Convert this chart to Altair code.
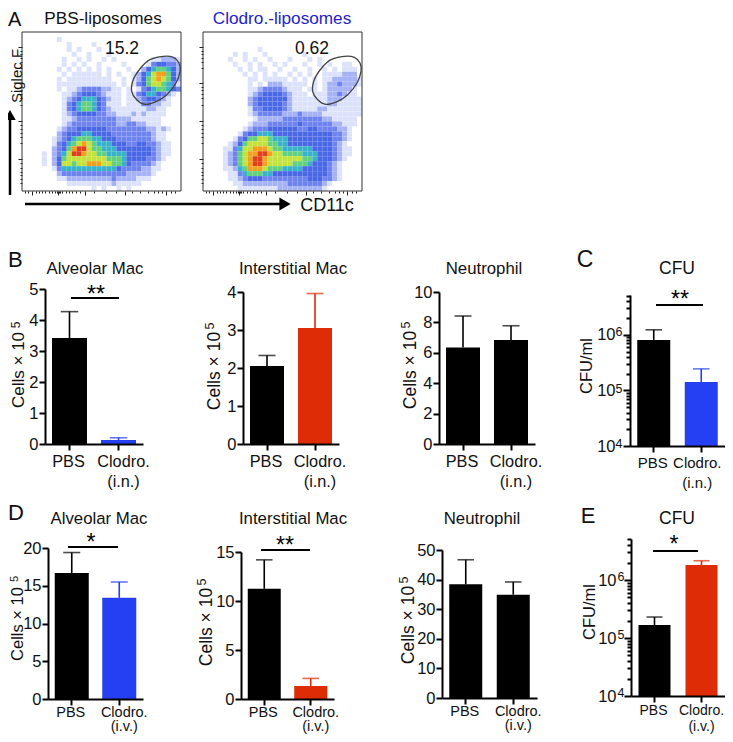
import altair as alt
import pandas as pd

W, H = 717, 726
FONT = "Liberation Sans"
BLACK, BLUE, RED = "#000000", "#2440f2", "#de2c06"

# ---------- values ----------
CATS = ["PBS", "Clodro."]
b1_vals, b1_tops = [3.42, 0.13], [4.27, 0.20]
b2_vals, b2_tops = [2.05, 3.05], [2.33, 3.96]
b3_vals, b3_tops = [6.35, 6.85], [8.42, 7.78]
c_vals, c_tops = [8.1e5, 1.42e5], [1.23e6, 2.44e5]
d1_vals, d1_tops = [16.7, 13.4], [19.4, 15.5]
d2_vals, d2_tops = [11.25, 1.33], [14.2, 2.1]
d3_vals, d3_tops = [38.4, 34.9], [46.7, 39.2]
e_vals, e_tops = [1.68e5, 1.81e6], [2.3e5, 2.15e6]

LOG_MINOR = [2e4, 3e4, 4e4, 5e4, 6e4, 7e4, 8e4, 9e4,
             2e5, 3e5, 4e5, 5e5, 6e5, 7e5, 8e5, 9e5,
             2e6, 3e6, 4e6, 5e6]
LOG_MAJOR = [1e4, 1e5, 1e6]

# density levels (0 blank .. 9 red)
flow_left = [
    "00000000000000000000000000000000",
    "00000001000000000000000000000000",
    "00000000010000100000000000000000",
    "00000000010100010000000000000000",
    "00000000001001000100000000000000",
    "00000000100101001010000000112221",
    "00000000101010010000100001344332",
    "00000001010101010100010024566542",
    "00000000101111110101001245788642",
    "00000001011111111100101246787642",
    "00000001111111111110101346776531",
    "00000001011233332211010134566543",
    "00000000112344432111011345543210",
    "00000000123455543211011234432100",
    "00000000134566543111011133221100",
    "00000000134566543211111112211000",
    "00000000123444433221112121111000",
    "00000000112333333332221111110000",
    "00000000123333333332233221110000",
    "00000001233444444333333332212100",
    "00000002344455444433333333211000",
    "00000012345666554443333333211000",
    "00000013456787655544433443321100",
    "00000023468997665554444444321100",
    "00001023579987766555544444321100",
    "00001024677777777666544443321000",
    "00001024776778887766543333210000",
    "00000013555555555554333322110000",
    "00000002333333333333322222100000",
    "00000001122222222232222111000000",
    "00000000011111111121111100000000",
    "00000000000000101001010000000000",
]
flow_right = [
    "00000000000000000000000000000000",
    "00000000000000000000000000000000",
    "00000000000000000000000000000000",
    "00000000000100000000000000000000",
    "00000010100010000000100000000000",
    "00000100101001000100010100000000",
    "00000010010100101000100101001100",
    "00000001010110010010010010101110",
    "00000000101010100101010011112220",
    "00000000011011111010101011222221",
    "00000000010102221111101012232221",
    "00000000011233332111011012222210",
    "00000000012344443211101112232110",
    "00000000023444444211111112221111",
    "00000000023444443211111112211111",
    "00000000013344443211111221111111",
    "00000000012333332223222211111111",
    "00000000001222223333333322111110",
    "00000000012223333334333333221110",
    "00000000123334444443344333322100",
    "00000001344555444444444444332100",
    "00000013466776555444444444332100",
    "00000124677776655444444444321000",
    "00001135778887665555554444321100",
    "00001236788998776666555444321100",
    "00001236789987777777665444321000",
    "00001236789987777766654443210000",
    "00001125688876665555444443210000",
    "00000113566655444444444443210000",
    "00000112344433333333344433210000",
    "00000011222222222333333321000000",
    "00000001111111122222222210000000",
]
LEVEL_COLORS = ["#ffffff", "#dde2fb", "#a5b2f5", "#6e83ee", "#4a68e6",
                "#38b2c8", "#62d07e", "#c4e23c", "#f2a01e", "#e0401a"]

gate_x = [141.3, 151.3, 157.0, 158.0, 154.0, 144.7, 134.7, 123.0, 114.7, 109.7, 111.3, 118.7, 128.0]
gate_y = [24.3, 25.3, 31.0, 39.3, 51.0, 62.7, 69.3, 72.3, 67.7, 59.3, 47.7, 36.0, 27.7]

flow_y_major = [15, 51, 89, 127]
flow_y_minor = [19, 22, 26, 30, 36, 55, 58, 62, 66, 73, 93, 97, 101, 105, 111,
                131, 136, 140, 143, 147, 151]
flow_x_major = [10, 36, 63, 103, 144]
flow_x_minor = [3, 6, 14, 17, 20, 23, 27, 30, 33, 35, 37, 38, 40, 44, 47, 50, 54, 58,
                72, 84, 94, 110, 118, 126, 132, 136, 140, 149, 153]


# ---------- helpers ----------
def px(v):
    return v - 8


def py(v):
    return v - 8


def one(s="x"):
    return alt.Chart(pd.DataFrame({"t": [s]}))


def label(s, x, y, size=16.8, angle=0, color="#111111", align="center"):
    return one(s).mark_text(font=FONT, fontSize=size, angle=angle, color=color,
                            align=align, baseline="middle").encode(
        text="t:N", x=alt.value(px(x)), y=alt.value(py(y)))


def cells_title(x, y, size=17.5, sup=12.5, dx=5):
    return [label("Cells × 10", x, y + 5, size, angle=270),
            label("5", x - dx, y - 40, sup, angle=270)]


def sig(x0, x1, y, stars, sx, sy):
    line = one().mark_rule(color="black", strokeWidth=2).encode(
        x=alt.value(px(x0)), x2=alt.value(px(x1)), y=alt.value(py(y)))
    return [line, label(stars, sx, sy, size=23, color="#000000")]


def bar_panel(vals, tops, colors, route, x0, x1, step, y0, ytop, dom, bar, ticks,
              log=False, tick_font=16.5, off=5, lab_font=16.3, lab_lh=20, lab_pad=3):
    base = dom[0]
    df = pd.DataFrame({"cat": CATS, "v": vals, "top": tops, "base": [base, base]})
    pad = max(0.0, ((x1 - x0) / step - 2) / 2)
    xs = alt.Scale(domain=CATS, range=[px(x0), px(x1)], paddingInner=0,
                   paddingOuter=pad, align=0)
    ys = alt.Scale(domain=dom, range=[py(y0), py(ytop)], nice=False, zero=False,
                   type="log" if log else "linear")
    cs = alt.Scale(domain=CATS, range=colors)
    xa = alt.Axis(title=None, orient="bottom", offset=-(H - py(y0)), domainColor="black",
                  domainWidth=2, tickColor="black", tickWidth=2, tickSize=6, zindex=1,
                  labelFont=FONT, labelFontSize=lab_font, labelColor="#111111", labelAngle=0,
                  labelPadding=lab_pad, labelLineHeight=lab_lh, labelAlign="center", labelBaseline="top",
                  labelExpr="datum.value=='PBS' ? 'PBS' : ['Clodro.','%s']" % route,
                  labelOffset={"condition": {"test": "datum.value=='PBS'", "value": -1},
                               "value": off},
                  grid=False)
    if log:
        decade = " || ".join("datum.value==%d" % t for t in LOG_MAJOR)
        ya = alt.Axis(title=None, orient="left", offset=-px(x0), values=LOG_MAJOR + LOG_MINOR,
                      domainColor="black", domainWidth=2, tickColor="black", tickWidth=2, zindex=1,
                      tickSize={"condition": {"test": decade, "value": 7}, "value": 4},
                      labelFont=FONT, labelFontSize=tick_font, labelColor="#111111", labelPadding=8,
                      labelOverlap=False, labelFlush=False,
                      labelExpr="indexof([10000,100000,1000000], datum.value) >= 0 ? '10' : ''",
                      grid=False)
    else:
        ya = alt.Axis(title=None, orient="left", offset=-px(x0), values=ticks, zindex=1,
                      domainColor="black", domainWidth=2, tickColor="black", tickWidth=2, tickSize=6,
                      labelFont=FONT, labelFontSize=tick_font, labelColor="#111111", labelPadding=1,
                      labelOverlap=False, labelFlush=False, grid=False)
    c = alt.Chart(df)
    color = alt.Color("cat:N", scale=cs, legend=None)
    enc_x = alt.X("cat:N", scale=xs, axis=xa, sort=CATS)
    err = c.mark_rule(strokeWidth=1.6).encode(
        x=enc_x, y=alt.Y("v:Q", scale=ys, axis=ya), y2="top:Q", color=color)
    cap = c.mark_tick(orient="horizontal", size=bar * 0.5, thickness=1.6).encode(
        x=enc_x, y=alt.Y("top:Q", scale=ys, axis=ya), color=color)
    bars = c.mark_bar(size=bar, clip=False).encode(
        x=enc_x, y=alt.Y("v:Q", scale=ys, axis=ya), y2="base:Q", color=color)
    return alt.layer(err, cap, bars)


def flow_panel(rows, x0, x1, y0, y1):
    cell = 159 / 32
    recs = []
    for r, row in enumerate(rows):
        for k, ch in enumerate(row):
            if ch != "0":
                recs.append({"a": k * cell, "b": (k + 1) * cell, "c": r * cell,
                             "d": (r + 1) * cell, "lev": int(ch)})
    xs = alt.Scale(domain=[0, 159], range=[px(x0), px(x1)], nice=False, zero=False)
    ys = alt.Scale(domain=[0, 159], range=[py(y0), py(y1)], nice=False, zero=False)
    cs = alt.Scale(domain=list(range(10)), range=LEVEL_COLORS)
    ytest = " || ".join("datum.value==%d" % t for t in flow_y_major)
    xtest = " || ".join("datum.value==%d" % t for t in flow_x_major)
    xa = alt.Axis(title=None, orient="bottom", offset=-(H - py(y1)), labels=False, domain=False, grid=False,
                  values=flow_x_major + flow_x_minor, tickColor="#222222", tickWidth=1,
                  tickSize={"condition": {"test": xtest, "value": 4}, "value": 2})
    ya = alt.Axis(title=None, orient="left", offset=-px(x0), labels=False, domain=False, grid=False,
                  values=flow_y_major + flow_y_minor, tickColor="#222222", tickWidth=1,
                  tickSize={"condition": {"test": ytest, "value": 4}, "value": 2})
    heat = alt.Chart(pd.DataFrame(recs)).mark_rect(strokeWidth=0).encode(
        x=alt.X("a:Q", scale=xs, axis=xa), x2="b:Q",
        y=alt.Y("c:Q", scale=ys, axis=ya), y2="d:Q",
        color=alt.Color("lev:O", scale=cs, legend=None))
    gate = alt.Chart(pd.DataFrame({"gx": gate_x, "gy": gate_y, "o": list(range(len(gate_x)))})).mark_line(
        interpolate="cardinal-closed", color="#444444", strokeWidth=1.3).encode(
        x=alt.X("gx:Q", scale=xs, axis=xa), y=alt.Y("gy:Q", scale=ys, axis=ya), order="o:Q")
    frame = one().mark_rect(fill=None, stroke="#333333", strokeWidth=1).encode(
        x=alt.value(px(x0)), x2=alt.value(px(x1)), y=alt.value(py(y0)), y2=alt.value(py(y1)))
    return alt.layer(heat, gate, frame)


# ---------- panels ----------
low = dict(lab_lh=14, lab_pad=0, lab_font=14.5)
panels = [
    flow_panel(flow_left, 22, 181, 32, 191),
    flow_panel(flow_right, 203, 362, 32, 191),
    bar_panel(b1_vals, b1_tops, [BLACK, BLUE], "(i.n.)", 45, 143, 49, 444, 289, [0, 5], 35, [0, 1, 2, 3, 4, 5]),
    bar_panel(b2_vals, b2_tops, [BLACK, RED], "(i.n.)", 243, 339, 48, 444, 292, [0, 4], 34, [0, 1, 2, 3, 4]),
    bar_panel(b3_vals, b3_tops, [BLACK, BLACK], "(i.n.)", 439, 535, 48, 444, 292, [0, 10], 34, [0, 2, 4, 6, 8, 10]),
    bar_panel(c_vals, c_tops, [BLACK, BLUE], "(i.n.)", 630, 725, 47.5, 446, 295, [1e4, 5.2e6], 33, None,
              log=True, off=-4, lab_font=15),
    bar_panel(d1_vals, d1_tops, [BLACK, BLUE], "(i.v.)", 48, 143, 47.5, 699, 548, [0, 20], 34, [0, 5, 10, 15, 20], **low),
    bar_panel(d2_vals, d2_tops, [BLACK, RED], "(i.v.)", 241, 334, 46.5, 699, 552, [0, 15], 33, [0, 5, 10, 15], **low),
    bar_panel(d3_vals, d3_tops, [BLACK, BLACK], "(i.v.)", 442, 537, 47.5, 698, 550, [0, 50], 33, [0, 10, 20, 30, 40, 50], **low),
    bar_panel(e_vals, e_tops, [BLACK, RED], "(i.v.)", 631, 725, 47, 696, 539, [1e4, 5.1e6], 32, None,
              log=True, off=0, lab_font=14, lab_lh=16, lab_pad=1),
]

notes = [
    label("A", 8, 20, 20, align="left"), label("B", 8, 260, 22, align="left"), label("C", 585, 260, 23),
    label("D", 8, 513, 22, align="left"), label("E", 588, 516, 22),
    label("PBS-liposomes", 103, 19, 17.2),
    label("Clodro.-liposomes", 282, 19, 17.2, color="#2323c8"),
    label("15.2", 122, 49, 17.5), label("0.62", 312, 49, 17.5),
    label("CD11c", 327, 206, 18), label("Siglec F", 17, 76, 15, angle=270),
    label("Alveolar Mac", 95, 269), label("Interstitial Mac", 293, 269),
    label("Neutrophil", 484, 269), label("CFU", 677, 269, 17.5),
    label("Alveolar Mac", 99, 519), label("Interstitial Mac", 293, 519),
    label("Neutrophil", 482, 519), label("CFU", 677, 519, 17.5),
    label("CFU/ml", 587, 366, 16.5, angle=270), label("CFU/ml", 590, 612, 16.5, angle=270),
    # decade exponents of the two log axes
    label("6", 619, 332, 12.5), label("5", 619, 389, 12.5), label("4", 619, 444, 12.5),
    label("6", 621, 577, 12.5), label("5", 621, 635, 12.5), label("4", 621, 693, 12.5),
]
notes += cells_title(19, 365, 17, 12, 3.5) + cells_title(18, 619, 16.5, 11, 3.5)
for tx, ty in [(215, 366), (411, 365), (207, 622), (409, 620)]:
    notes += cells_title(tx, ty)
notes += sig(71, 119, 298, "**", 96, 295)
notes += sig(656, 703, 305, "**", 680, 300)
notes += sig(68, 118, 547, "*", 91, 543)
notes += sig(261, 310, 550, "**", 285, 546)
notes += sig(653, 698, 551, "*", 674, 545)

# axis arrows of the dot plots
notes += [
    one().mark_rule(color="black", strokeWidth=2.5).encode(
        x=alt.value(px(25)), x2=alt.value(px(282)), y=alt.value(py(204))),
    one().mark_point(shape="triangle-right", filled=True, color="black", size=170, opacity=1).encode(
        x=alt.value(px(285)), y=alt.value(py(204))),
    one().mark_rule(color="black", strokeWidth=2.5).encode(
        x=alt.value(px(10)), y=alt.value(py(195)), y2=alt.value(py(118))),
    one().mark_point(shape="triangle-up", filled=True, color="black", size=130, opacity=1).encode(
        x=alt.value(px(10)), y=alt.value(py(115))),
]

chart = alt.layer(*panels, *notes).resolve_scale(
    x="independent", y="independent", color="independent"
).resolve_axis(x="independent", y="independent").properties(
    width=W, height=H, padding=0, autosize=alt.AutoSizeParams(type="none"),
    background="white"
).configure_view(stroke=None)

chart.save("out.html", embed_options={"renderer": "svg", "actions": False})
